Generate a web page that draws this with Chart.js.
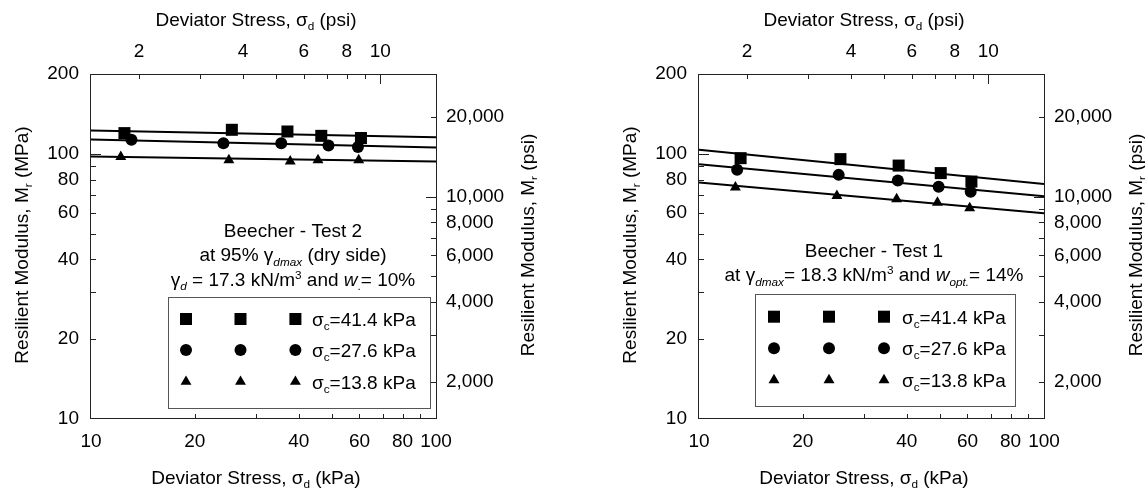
<!DOCTYPE html>
<html>
<head>
<meta charset="utf-8">
<script src="https://cdn.jsdelivr.net/npm/chart.js@4.4.0/dist/chart.umd.min.js"></script>
<style>
  html, body { margin: 0; padding: 0; background: #fff; }
  .panel { position: absolute; top: 0; width: 537px; height: 491px; }
</style>
</head>
<body>
<div class="panel" style="left:0"><canvas id="test2"></canvas></div>
<div class="panel" style="left:608px"><canvas id="test1"></canvas></div>
<script>
const FONT = '"Liberation Sans", Arial, Helvetica, sans-serif';
const FS = 19;
const KPA_PER_PSI = 6.89476;
const PSI_PER_MPA = 145.038;

// axis ticks and labels
const kpaTicks = [10, 20, 30, 40, 50, 60, 70, 80, 90, 100];
const kpaLabels = [10, 20, 40, 60, 80, 100];
const psiTicks = [2, 3, 4, 5, 6, 7, 8, 9, 10];
const psiLabels = [2, 4, 6, 8, 10];
const mpaTicks = [10, 20, 30, 40, 50, 60, 70, 80, 90, 100, 200];
const mpaLabels = [10, 20, 40, 60, 80, 100, 200];
const modPsiTicks = [2000, 3000, 4000, 5000, 6000, 7000, 8000, 9000, 10000, 20000];
const modPsiLabels = [2000, 4000, 6000, 8000, 10000, 20000];
const confining = [41.4, 27.6, 13.8];

// Beecher - Test 2 (left panel), deviator stress kPa / Mr MPa
const t2SqX = [12.5, 25.6, 37.1, 46.5, 60.6];
const t2SqY = [119.7, 123.2, 121.4, 116.9, 114.7];
const t2CiX = [13.1, 24.2, 35.6, 48.8, 59.4];
const t2CiY = [112.9, 109.7, 109.7, 107.5, 106.0];
const t2TrX = [12.2, 25.1, 37.8, 45.5, 59.7];
const t2TrY = [97.4, 94.8, 93.7, 94.8, 94.8];
const t2FitSq = [122.5, 115.6];
const t2FitCi = [113.2, 105.6];
const t2FitTr = [97.7, 93.5];

// Beecher - Test 1 (right panel)
const t1SqX = [13.2, 25.7, 37.9, 50.2, 61.6];
const t1SqY = [96.3, 95.5, 90.3, 84.6, 78.6];
const t1CiX = [12.9, 25.4, 37.7, 49.5, 61.3];
const t1CiY = [87.0, 83.3, 79.3, 75.2, 72.0];
const t1TrX = [12.75, 25.1, 37.4, 49.1, 60.9];
const t1TrY = [74.7, 69.5, 67.5, 65.5, 62.4];
const t1FitSq = [103.5, 77.0];
const t1FitCi = [91.4, 69.2];
const t1FitTr = [77.9, 59.7];

const fitX = [10, 100];

Chart.defaults.font.family = FONT;
Chart.defaults.font.size = FS;
Chart.defaults.color = '#000';

const styles = [['rect', 8.5], ['circle', 6], ['triangle', 6.3]];

function pointSet(xs, ys, k) {
  return {
    data: xs.map((x, i) => ({ x: x, y: ys[i] })),
    pointStyle: styles[k][0],
    pointRadius: styles[k][1],
    pointHoverRadius: styles[k][1],
    backgroundColor: '#000',
    borderWidth: 0,
    showLine: false
  };
}

function fitSet(ends) {
  return {
    data: fitX.map((x, i) => ({ x: x, y: ends[i] })),
    showLine: true,
    borderColor: '#000',
    borderWidth: 2,
    pointRadius: 0,
    fill: false
  };
}

function logAxis(position, min, max, ticks, labels, fmt, pad, size) {
  return {
    type: 'logarithmic',
    position: position,
    min: min,
    max: max,
    bounds: 'data',
    grid: { display: false, drawTicks: false },
    border: { display: false },
    ticks: {
      autoSkip: false, maxRotation: 0, minRotation: 0, padding: pad,
      callback: v => labels.includes(v) ? fmt(v) : ''
    },
    afterBuildTicks: s => { s.ticks = ticks.map(v => ({ value: v })); },
    afterFit: s => {
      if (position === 'top' || position === 'bottom') s.height = size; else s.width = size;
    }
  };
}

function fontFor(st) {
  const small = st.includes('sub') || st.includes('sup');
  const it = st.includes('i') ? 'italic ' : '';
  return it + (small ? FS * 0.62 : FS) + 'px ' + FONT;
}

// draws text runs with sub/superscripts, y is the visual middle
function drawRich(ctx, parts, x, y, align) {
  let w = 0;
  parts.forEach(p => { ctx.font = fontFor(p[1] || ''); w += ctx.measureText(p[0]).width; });
  let cx = align === 'left' ? x : x - w / 2;
  const base = y + FS * 0.36;
  ctx.textAlign = 'left';
  ctx.textBaseline = 'alphabetic';
  parts.forEach(p => {
    const st = p[1] || '';
    ctx.font = fontFor(st);
    let dy = 0;
    if (st.includes('sub')) dy = FS * 0.22;
    if (st.includes('sup')) dy = -FS * 0.38;
    ctx.fillText(p[0], cx, base + dy);
    cx += ctx.measureText(p[0]).width;
  });
}

function marker(ctx, k, x, y) {
  const r = styles[k][1];
  ctx.beginPath();
  if (k === 0) {
    const s = r * Math.SQRT1_2;
    ctx.rect(x - s, y - s, 2 * s, 2 * s);
  } else if (k === 1) {
    ctx.arc(x, y, r, 0, Math.PI * 2);
  } else {
    let a = 0;
    ctx.moveTo(x + Math.sin(a) * r, y - Math.cos(a) * r);
    a += Math.PI * 2 / 3;
    ctx.lineTo(x + Math.sin(a) * r, y - Math.cos(a) * r);
    a += Math.PI * 2 / 3;
    ctx.lineTo(x + Math.sin(a) * r, y - Math.cos(a) * r);
    ctx.closePath();
  }
  ctx.fill();
}

const decor = {
  id: 'decor',
  afterDraw(chart, args, o) {
    const { ctx, chartArea: a, scales } = chart;
    ctx.save();
    ctx.strokeStyle = '#222';
    ctx.lineWidth = 1;
    ctx.strokeRect(Math.round(a.left) - 0.5, Math.round(a.top) + 0.5,
      Math.round(a.right - a.left) + 1, Math.round(a.bottom - a.top) - 1);

    // inward tick marks
    const marks = (scale, values, longOnes) => values.forEach(v => {
      const p = Math.round(scale.getPixelForValue(v)) + 0.5;
      const len = longOnes.includes(v) ? 10 : 5;
      ctx.beginPath();
      if (scale.position === 'bottom') { ctx.moveTo(p, a.bottom); ctx.lineTo(p, a.bottom - len); }
      if (scale.position === 'top') { ctx.moveTo(p, a.top); ctx.lineTo(p, a.top + len); }
      if (scale.position === 'left') { ctx.moveTo(a.left, p); ctx.lineTo(a.left + len, p); }
      if (scale.position === 'right') { ctx.moveTo(a.right, p); ctx.lineTo(a.right - len, p); }
      ctx.stroke();
    });
    marks(scales.x, kpaTicks.slice(1, -1), []);
    marks(scales.x2, psiTicks, [10]);
    marks(scales.y, mpaTicks.slice(1, -1), [100]);
    marks(scales.y2, modPsiTicks, [10000]);

    ctx.fillStyle = '#000';
    // axis titles
    drawRich(ctx, [['Deviator Stress, σ'], ['d', 'sub'], [' (psi)']], 256, 19);
    drawRich(ctx, [['Deviator Stress, σ'], ['d', 'sub'], [' (kPa)']], 256, 477);
    ctx.save();
    ctx.translate(21, 245);
    ctx.rotate(-Math.PI / 2);
    drawRich(ctx, [['Resilient Modulus, M'], ['r', 'sub'], [' (MPa)']], 0, 0);
    ctx.restore();
    ctx.save();
    ctx.translate(527, 245);
    ctx.rotate(-Math.PI / 2);
    drawRich(ctx, [['Resilient Modulus, M'], ['r', 'sub'], [' (psi)']], 0, 0);
    ctx.restore();

    // test description
    o.notes.forEach((line, i) => drawRich(ctx, line, o.noteX, o.noteY[i]));

    // legend box
    const L = o.legend;
    ctx.fillStyle = '#fff';
    ctx.fillRect(L.x0, L.y0, L.x1 - L.x0, L.y1 - L.y0);
    ctx.strokeStyle = '#555';
    ctx.strokeRect(L.x0 + 0.5, L.y0 + 0.5, L.x1 - L.x0, L.y1 - L.y0);
    ctx.fillStyle = '#000';
    confining.forEach((c, k) => {
      L.cols.forEach(cx => marker(ctx, k, cx, L.rows[k]));
      drawRich(ctx, [['σ'], ['c', 'sub'], ['=' + c.toFixed(1) + ' kPa']], L.textX, L.rows[k], 'left');
    });
    ctx.restore();
  }
};

function makePanel(id, sets, notes, noteX, noteY, legend) {
  new Chart(document.getElementById(id), {
    type: 'scatter',
    data: { datasets: sets },
    options: {
      responsive: true,
      maintainAspectRatio: false,
      animation: false,
      events: [],
      layout: { padding: 0 },
      plugins: {
        legend: { display: false },
        tooltip: { enabled: false },
        decor: { notes: notes, noteX: noteX, noteY: noteY, legend: legend }
      },
      scales: {
        x: logAxis('bottom', 10, 100, kpaTicks, kpaLabels, v => String(v), 11, 72),
        x2: logAxis('top', 10 / KPA_PER_PSI, 100 / KPA_PER_PSI, psiTicks, psiLabels, v => String(v), 11, 74),
        y: logAxis('left', 10, 200, mpaTicks, mpaLabels, v => String(v), 12, 91),
        y2: logAxis('right', 10 * PSI_PER_MPA, 200 * PSI_PER_MPA, modPsiTicks, modPsiLabels,
          v => v.toLocaleString('en-US'), 10, 101)
      }
    },
    plugins: [decor]
  });
}

makePanel('test2', [
  pointSet(t2TrX, t2TrY, 2),
  pointSet(t2CiX, t2CiY, 1),
  pointSet(t2SqX, t2SqY, 0),
  fitSet(t2FitSq), fitSet(t2FitCi), fitSet(t2FitTr)
], [
  [['Beecher - Test 2']],
  [['at 95% γ'], ['dmax', 'isub'], [' (dry side)']],
  [['γ'], ['d', 'isub'], [' = 17.3 kN/m'], ['3', 'sup'], [' and '], ['w', 'i'], ['.', 'sub'], ['= 10%']]
], 293, [230, 254.5, 279],
{ x0: 168, y0: 297, x1: 430, y1: 408, cols: [186, 240.5, 295.4], rows: [319, 350, 381.7], textX: 312 });

makePanel('test1', [
  pointSet(t1TrX, t1TrY, 2),
  pointSet(t1CiX, t1CiY, 1),
  pointSet(t1SqX, t1SqY, 0),
  fitSet(t1FitSq), fitSet(t1FitCi), fitSet(t1FitTr)
], [
  [['Beecher - Test 1']],
  [['at γ'], ['dmax', 'isub'], ['= 18.3 kN/m'], ['3', 'sup'], [' and '], ['w', 'i'], ['opt.', 'isub'], ['= 14%']]
], 266, [250, 274.5],
{ x0: 147, y0: 294, x1: 407, y1: 406, cols: [166, 221, 276], rows: [316.7, 348.3, 380], textX: 294 });
</script>
</body>
</html>
